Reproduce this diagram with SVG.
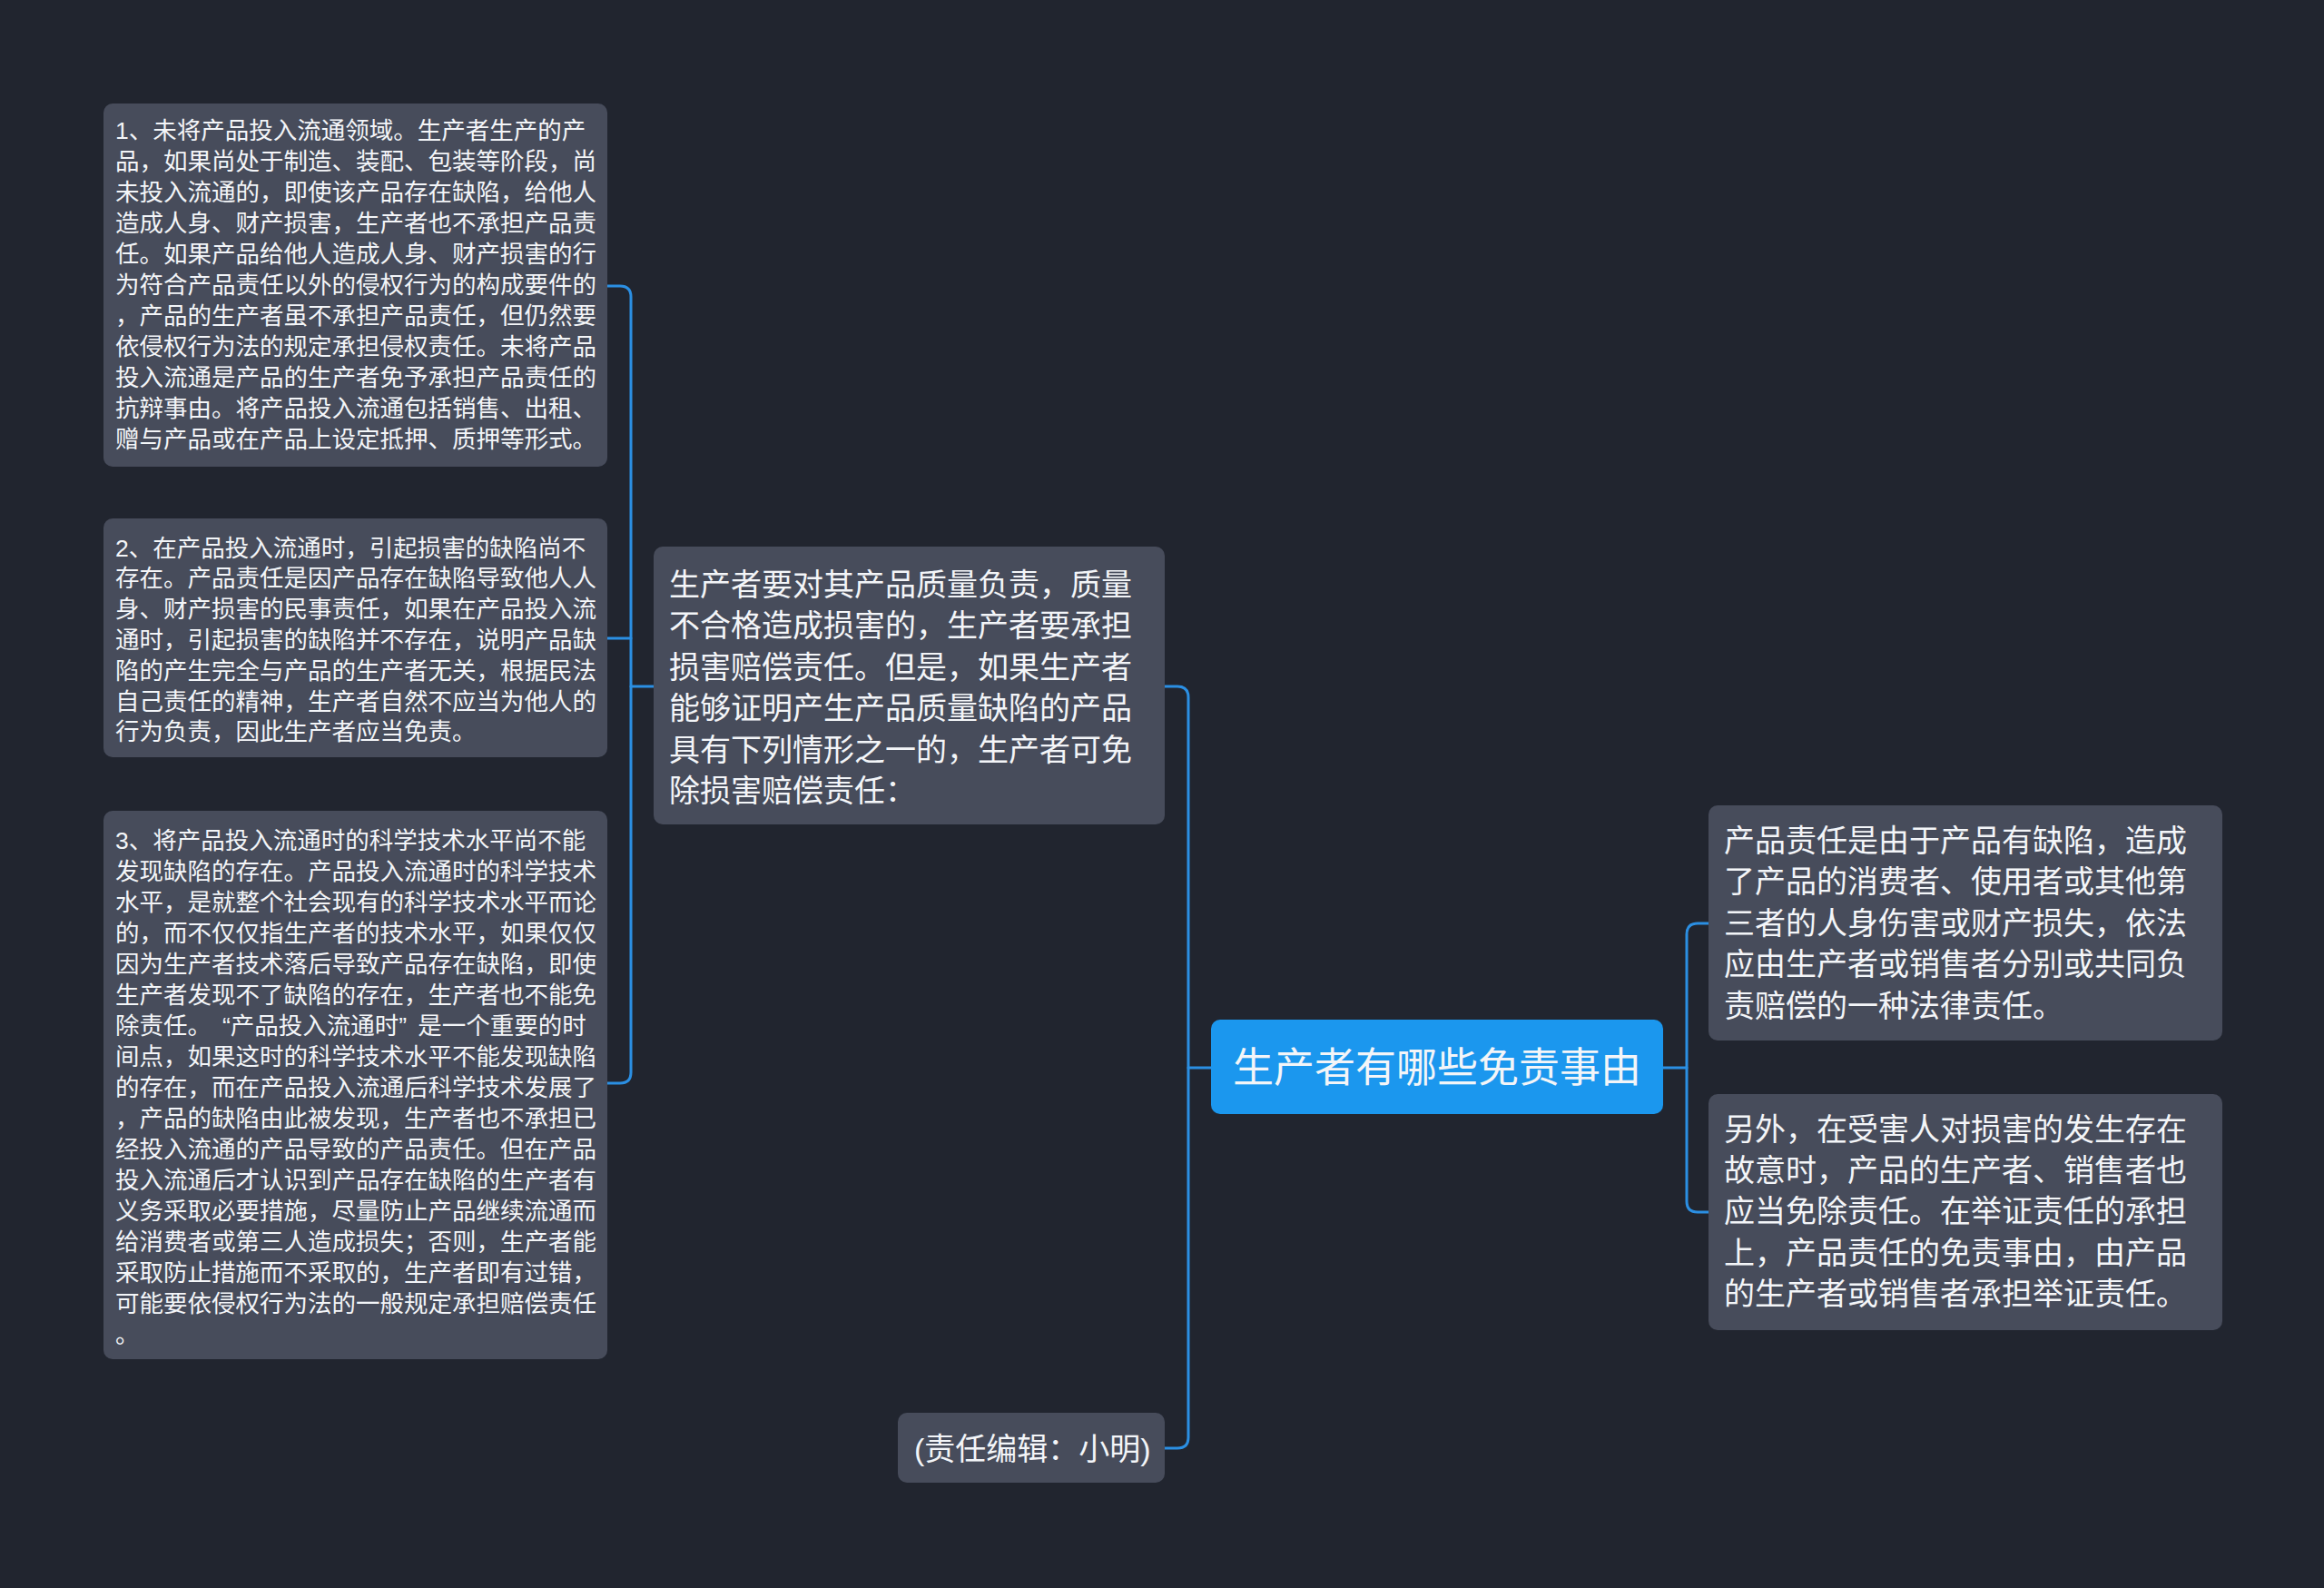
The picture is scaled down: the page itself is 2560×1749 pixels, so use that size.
<svg xmlns="http://www.w3.org/2000/svg" width="2560" height="1749" viewBox="0 0 2560 1749">
  <defs>
    <style>
      .bg { fill: #21252f; }
      .node rect { fill: #474c5b; }
      .root rect { fill: #1b97ee; }
      .t { font-family: "Liberation Sans", "Noto Sans CJK SC", sans-serif; fill: #f3f5f8; }
      .s { font-size: 26.5px; }
      .m { font-size: 34px; }
      .l { font-size: 45px; }
      .conn path { fill: none; stroke: #2b8fe3; stroke-width: 3; stroke-linecap: round; }
    </style>
  </defs>
  <rect class="bg" x="0" y="0" width="2560" height="1749"/>

  <g id="connectors" class="conn">
    <path d="M1334,1176 H1309"/>
    <path d="M1283,756 H1297 Q1309,756 1309,768 V1583 Q1309,1595 1297,1595 H1283"/>
    <path d="M720,756 H695"/>
    <path d="M669,315 H683 Q695,315 695,327 V1181 Q695,1193 683,1193 H669"/>
    <path d="M669,703 H695"/>
    <path d="M1832,1176 H1858"/>
    <path d="M1882,1017 H1870 Q1858,1017 1858,1029 V1323 Q1858,1335 1870,1335 H1882"/>
  </g>

  <g id="root" class="root">
    <rect x="1334" y="1123" width="498" height="104" rx="10"/>
    <text class="t l" x="1583" y="1192" text-anchor="middle">生产者有哪些免责事由</text>
  </g>

  <g id="node-a" class="node">
    <rect x="720" y="602" width="563" height="306" rx="10"/>
    <text class="t m">
      <tspan x="737" y="656">生产者要对其产品质量负责，质量</tspan>
      <tspan x="737" y="701.4">不合格造成损害的，生产者要承担</tspan>
      <tspan x="737" y="746.8">损害赔偿责任。但是，如果生产者</tspan>
      <tspan x="737" y="792.2">能够证明产生产品质量缺陷的产品</tspan>
      <tspan x="737" y="837.6">具有下列情形之一的，生产者可免</tspan>
      <tspan x="737" y="883">除损害赔偿责任：</tspan>
    </text>
  </g>

  <g id="node-1" class="node">
    <rect x="114" y="114" width="555" height="400" rx="10"/>
    <text class="t s">
      <tspan x="127" y="153">1、未将产品投入流通领域。生产者生产的产</tspan>
      <tspan x="127" y="187">品，如果尚处于制造、装配、包装等阶段，尚</tspan>
      <tspan x="127" y="221">未投入流通的，即使该产品存在缺陷，给他人</tspan>
      <tspan x="127" y="255">造成人身、财产损害，生产者也不承担产品责</tspan>
      <tspan x="127" y="289">任。如果产品给他人造成人身、财产损害的行</tspan>
      <tspan x="127" y="323">为符合产品责任以外的侵权行为的构成要件的</tspan>
      <tspan x="127" y="357">，产品的生产者虽不承担产品责任，但仍然要</tspan>
      <tspan x="127" y="391">依侵权行为法的规定承担侵权责任。未将产品</tspan>
      <tspan x="127" y="425">投入流通是产品的生产者免予承担产品责任的</tspan>
      <tspan x="127" y="459">抗辩事由。将产品投入流通包括销售、出租、</tspan>
      <tspan x="127" y="493">赠与产品或在产品上设定抵押、质押等形式。</tspan>
    </text>
  </g>

  <g id="node-2" class="node">
    <rect x="114" y="571" width="555" height="263" rx="10"/>
    <text class="t s">
      <tspan x="127" y="612.5">2、在产品投入流通时，引起损害的缺陷尚不</tspan>
      <tspan x="127" y="646.3">存在。产品责任是因产品存在缺陷导致他人人</tspan>
      <tspan x="127" y="680.1">身、财产损害的民事责任，如果在产品投入流</tspan>
      <tspan x="127" y="713.9">通时，引起损害的缺陷并不存在，说明产品缺</tspan>
      <tspan x="127" y="747.7">陷的产生完全与产品的生产者无关，根据民法</tspan>
      <tspan x="127" y="781.5">自己责任的精神，生产者自然不应当为他人的</tspan>
      <tspan x="127" y="815.3">行为负责，因此生产者应当免责。</tspan>
    </text>
  </g>

  <g id="node-3" class="node">
    <rect x="114" y="893" width="555" height="604" rx="10"/>
    <text class="t s">
      <tspan x="127" y="934.5">3、将产品投入流通时的科学技术水平尚不能</tspan>
      <tspan x="127" y="968.5">发现缺陷的存在。产品投入流通时的科学技术</tspan>
      <tspan x="127" y="1002.5">水平，是就整个社会现有的科学技术水平而论</tspan>
      <tspan x="127" y="1036.5">的，而不仅仅指生产者的技术水平，如果仅仅</tspan>
      <tspan x="127" y="1070.5">因为生产者技术落后导致产品存在缺陷，即使</tspan>
      <tspan x="127" y="1104.5">生产者发现不了缺陷的存在，生产者也不能免</tspan>
      <tspan x="127" y="1138.5">除责任。<tspan dx="12">“</tspan>产品投入流通时<tspan dx="0">”</tspan><tspan dx="12">是一个重要的时</tspan></tspan>
      <tspan x="127" y="1172.5">间点，如果这时的科学技术水平不能发现缺陷</tspan>
      <tspan x="127" y="1206.5">的存在，而在产品投入流通后科学技术发展了</tspan>
      <tspan x="127" y="1240.5">，产品的缺陷由此被发现，生产者也不承担已</tspan>
      <tspan x="127" y="1274.5">经投入流通的产品导致的产品责任。但在产品</tspan>
      <tspan x="127" y="1308.5">投入流通后才认识到产品存在缺陷的生产者有</tspan>
      <tspan x="127" y="1342.5">义务采取必要措施，尽量防止产品继续流通而</tspan>
      <tspan x="127" y="1376.5">给消费者或第三人造成损失；否则，生产者能</tspan>
      <tspan x="127" y="1410.5">采取防止措施而不采取的，生产者即有过错，</tspan>
      <tspan x="127" y="1444.5">可能要依侵权行为法的一般规定承担赔偿责任</tspan>
      <tspan x="127" y="1478.5">。</tspan>
    </text>
  </g>

  <g id="node-r1" class="node">
    <rect x="1882" y="887" width="566" height="259" rx="10"/>
    <text class="t m">
      <tspan x="1899" y="938">产品责任是由于产品有缺陷，造成</tspan>
      <tspan x="1899" y="983.4">了产品的消费者、使用者或其他第</tspan>
      <tspan x="1899" y="1028.8">三者的人身伤害或财产损失，依法</tspan>
      <tspan x="1899" y="1074.2">应由生产者或销售者分别或共同负</tspan>
      <tspan x="1899" y="1119.6">责赔偿的一种法律责任。</tspan>
    </text>
  </g>

  <g id="node-r2" class="node">
    <rect x="1882" y="1205" width="566" height="260" rx="10"/>
    <text class="t m">
      <tspan x="1899" y="1255.5">另外，在受害人对损害的发生存在</tspan>
      <tspan x="1899" y="1300.9">故意时，产品的生产者、销售者也</tspan>
      <tspan x="1899" y="1346.3">应当免除责任。在举证责任的承担</tspan>
      <tspan x="1899" y="1391.7">上，产品责任的免责事由，由产品</tspan>
      <tspan x="1899" y="1437.1">的生产者或销售者承担举证责任。</tspan>
    </text>
  </g>

  <g id="node-editor" class="node">
    <rect x="989" y="1556" width="294" height="77" rx="10"/>
    <text class="t m" x="1007" y="1608">(责任编辑：小明)</text>
  </g>
</svg>
